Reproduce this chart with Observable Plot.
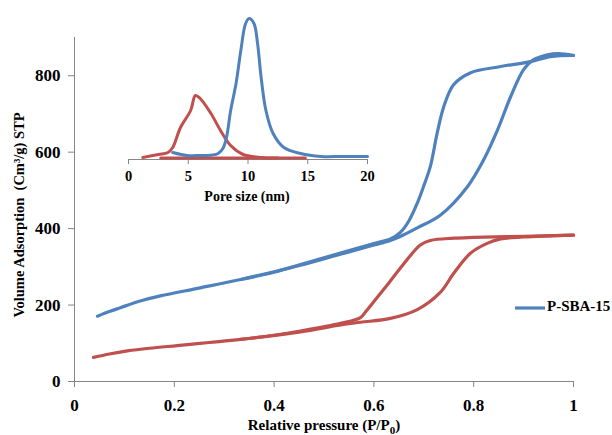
<!DOCTYPE html>
<html><head><meta charset="utf-8">
<script src="https://cdn.jsdelivr.net/npm/d3@7"></script>
<script src="https://cdn.jsdelivr.net/npm/@observablehq/plot@0.6"></script>
<style>
html,body{margin:0;padding:0;background:#fff;}
#wrap{position:relative;width:612px;height:435px;background:#fff;}
#wrap svg{position:absolute;left:0;top:0;}
</style></head><body><div id="wrap"></div>
<script>
// ---- Main isotherm data (relative pressure P/P0 vs volume adsorbed) ----
const blueAdsP = [0.046,0.07,0.092,0.13,0.172,0.252,0.333,0.453,0.533,0.6,0.633,0.66,0.687,0.733,0.787,0.82,0.848,0.874,0.9,0.92,0.948,0.97,1.0];
const blueAdsV = [171,183,193,210,224,245,267,304,333,357,369,384,402,435,509,580,659,745,816,842,855,858,853];
const blueDesP = [1.0,0.954,0.914,0.854,0.794,0.76,0.74,0.727,0.713,0.7,0.687,0.67,0.653,0.633,0.6,0.533,0.453,0.4,0.333];
const blueDesV = [853,850,837,824,808,777,719,651,562,512,467,420,390,373,361,336,306,286,267];
const redAdsP = [0.038,0.07,0.106,0.15,0.206,0.27,0.333,0.453,0.533,0.573,0.633,0.687,0.733,0.76,0.794,0.828,0.854,0.9,1.0];
const redAdsV = [63,72,80,87,94,102,110,130,148,155,165,188,233,283,336,362,373,378,383];
const redDesP = [1.0,0.9,0.8,0.76,0.713,0.693,0.66,0.63,0.6,0.585,0.573,0.533,0.453,0.4,0.333];
const redDesV = [383,380,377,375,369,357,308,258,209,185,167,152,132,121,110];
// ---- Inset pore size distribution ----
const bluePsdX = [3.7,4.9,6.0,7.0,7.5,7.9,8.2,8.55,9.0,9.4,9.8,10.1,10.5,10.8,11.1,11.5,12.1,13.0,14.4,16.1,18,20];
const bluePsdV = [7,4,4,4.5,6,11,22,49,76,109,136,141,136,116,82,49,26,12,6,3,3,3];
const redPsdX = [1.2,2.5,3.3,3.7,4.35,5.2,5.6,6.0,6.9,7.7,8.55,9.6,11.1,12.5];
const redPsdV = [2,5,7,12,32,49,64,61,46,29,14,5,2,1.5];
const redFlatX = [2.7,14.8];
const redFlatV = [1.5,1.5];
// ---- Ticks & labels ----
const pTicks = [0,0.2,0.4,0.6,0.8,1];
const vTicks = [0,200,400,600,800];
const poreTicks = [0,5,10,15,20];
const legendLabel = "P-SBA-15";

const BLUE = "#4F81BD", RED = "#C0504D", AXIS = "#868686";
const FONT = "'Liberation Serif','Times New Roman',serif";
const zip = (xs, ys) => xs.map((x, i) => ({x, y: ys[i]}));

const blueAds = zip(blueAdsP, blueAdsV), blueDes = zip(blueDesP, blueDesV);
const redAds = zip(redAdsP, redAdsV), redDes = zip(redDesP, redDesV);

const main = Plot.plot({
  width: 612, height: 435,
  marginLeft: 74, marginRight: 39, marginTop: 37, marginBottom: 54,
  style: {fontFamily: FONT, fontWeight: "bold", color: "#000", background: "transparent", overflow: "visible"},
  x: {domain: [0, 1], axis: null},
  y: {domain: [0, 900], axis: null},
  marks: [
    Plot.ruleY([0], {stroke: AXIS}),
    Plot.ruleX([0], {stroke: AXIS}),
    Plot.axisX({ticks: pTicks, tickSize: 6, tickPadding: 11, tickFormat: d => String(d), stroke: AXIS, label: null, fontSize: 17}),
    Plot.axisY({ticks: vTicks, tickSize: 6, tickPadding: 8, tickFormat: d => String(d), stroke: AXIS, label: null, fontSize: 17}),
    Plot.line(redAds, {x: "x", y: "y", stroke: RED, strokeWidth: 3.2, curve: "catmull-rom"}),
    Plot.line(redDes, {x: "x", y: "y", stroke: RED, strokeWidth: 3.2, curve: "catmull-rom"}),
    Plot.line(blueAds, {x: "x", y: "y", stroke: BLUE, strokeWidth: 3.2, curve: "catmull-rom"}),
    Plot.line(blueDes, {x: "x", y: "y", stroke: BLUE, strokeWidth: 3.2, curve: "catmull-rom"})
  ]
});

const inset = Plot.plot({
  width: 612, height: 435,
  marginLeft: 128, marginRight: 245, marginTop: 9, marginBottom: 276,
  style: {fontFamily: FONT, fontWeight: "bold", color: "#000", background: "transparent", overflow: "visible"},
  x: {domain: [0, 20], axis: null},
  y: {domain: [0, 150], axis: null},
  marks: [
    Plot.ruleY([0], {stroke: AXIS}),
    Plot.axisX({ticks: poreTicks, tickSize: 5, tickPadding: 6, tickFormat: d => String(d), stroke: AXIS, label: null, fontSize: 14.5}),
    Plot.line(zip(redFlatX, redFlatV), {x: "x", y: "y", stroke: RED, strokeWidth: 3}),
    Plot.line(zip(redPsdX, redPsdV), {x: "x", y: "y", stroke: RED, strokeWidth: 3, curve: "catmull-rom"}),
    Plot.line(zip(bluePsdX, bluePsdV), {x: "x", y: "y", stroke: BLUE, strokeWidth: 3, curve: "catmull-rom"})
  ]
});

const wrap = document.getElementById("wrap");
wrap.appendChild(main);
wrap.appendChild(inset);

// Axis titles and legend
const ms = d3.select(main);
ms.append("text")
  .attr("transform", "translate(21,215) rotate(-90)")
  .attr("text-anchor", "middle").attr("dominant-baseline", "middle")
  .attr("font-family", FONT).attr("font-weight", "bold").attr("font-size", 14.5).attr("fill", "#000")
  .text("Volume Adsorption  (Cm³/g) STP");
const xt = ms.append("text")
  .attr("x", 324).attr("y", 430)
  .attr("text-anchor", "middle")
  .attr("font-family", FONT).attr("font-weight", "bold").attr("font-size", 15).attr("fill", "#000");
xt.append("tspan").text("Relative pressure (P/P");
xt.append("tspan").attr("font-size", 11).attr("dy", 4).text("0");
xt.append("tspan").attr("dy", -4).text(")");

const lg = ms.append("g");
lg.append("line").attr("x1", 515).attr("x2", 545).attr("y1", 308).attr("y2", 308)
  .attr("stroke", BLUE).attr("stroke-width", 3.2);
lg.append("text").attr("x", 547).attr("y", 308)
  .attr("text-anchor", "start").attr("dominant-baseline", "middle")
  .attr("font-family", FONT).attr("font-weight", "bold").attr("font-size", 15).attr("fill", "#000")
  .text(legendLabel);

d3.select(inset).append("text")
  .attr("x", 247).attr("y", 198).attr("text-anchor", "middle").attr("dominant-baseline", "middle")
  .attr("font-family", FONT).attr("font-weight", "bold").attr("font-size", 14).attr("fill", "#000")
  .text("Pore size (nm)");
</script></body></html>
